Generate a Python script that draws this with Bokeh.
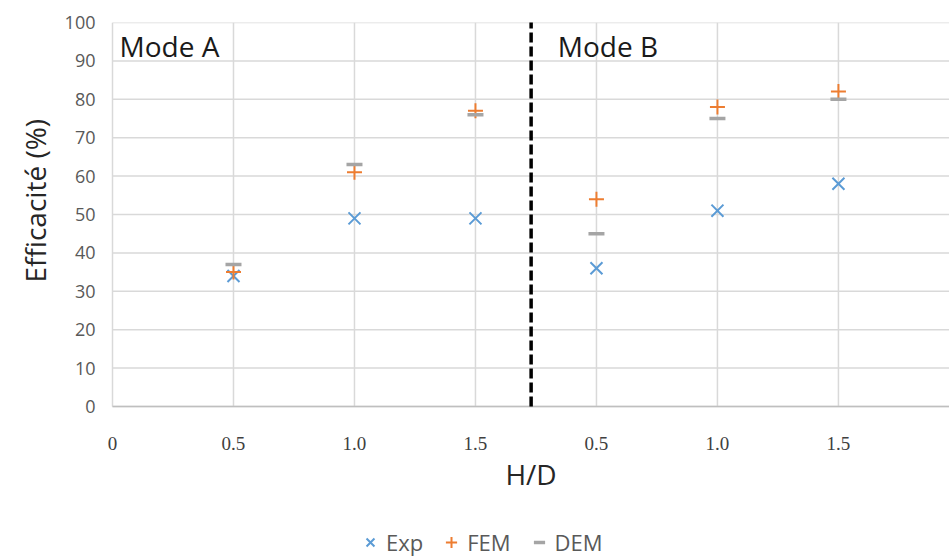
from bokeh.plotting import figure
from bokeh.models import ColumnDataSource, FixedTicker, Label, Legend, LegendItem, Title
from bokeh.embed import file_html
from bokeh.resources import INLINE

# ---- data ----
positions = [1, 2, 3, 4, 5, 6]           # category slots (Mode A: 1-3, Mode B: 4-6)
tick_positions = [0, 1, 2, 3, 4, 5, 6]
tick_labels = ["0", "0.5", "1.0", "1.5", "0.5", "1.0", "1.5"]
exp_vals = [34, 49, 49, 36, 51, 58]
fem_vals = [35, 61, 77, 54, 78, 82]
dem_vals = [37, 63, 76, 45, 75, 80]
y_ticks = [0, 10, 20, 30, 40, 50, 60, 70, 80, 90, 100]
mode_split = 3.46

FONT = "Open Sans"
GRID = "#D9D9D9"
TICK_COL = "#595959"

X_END = 6.918
Y_MIN, Y_MAX = min(y_ticks), max(y_ticks)

src = ColumnDataSource(dict(x=positions, exp=exp_vals, fem=fem_vals, dem=dem_vals))

p = figure(width=949, height=557, x_range=(-0.0992, X_END), y_range=(-39.32, Y_MAX),
           output_backend="svg", toolbar_location=None, x_axis_location=None,
           min_border_left=100, min_border_right=0, min_border_top=22, min_border_bottom=0)
p.outline_line_color = None
p.background_fill_color = "white"
p.xgrid.visible = False
p.ygrid.visible = False

# y axis
p.yaxis.ticker = FixedTicker(ticks=y_ticks)
p.yaxis.bounds = (Y_MIN, Y_MAX)
p.yaxis.axis_line_color = None
p.yaxis.major_tick_line_color = None
p.yaxis.minor_tick_line_color = None
p.yaxis.major_tick_out = 0
p.yaxis.major_label_text_color = TICK_COL
p.yaxis.major_label_text_font = FONT
p.yaxis.major_label_text_font_size = "18px"
p.yaxis.major_label_standoff = 5

# y axis title, aligned to the 0-100 part of the frame
p.add_layout(Title(text="Efficacité (%)", align="left", offset=275, standoff=15,
                   text_font=FONT, text_font_size="28px", text_font_style="normal",
                   text_color="#262626"), "left")

# grid lines (drawn from the tick arrays)
p.segment(x0=tick_positions, y0=[Y_MIN] * len(tick_positions),
          x1=tick_positions, y1=[Y_MAX] * len(tick_positions),
          line_color=GRID, line_width=1.5)
p.segment(x0=[min(tick_positions)] * len(y_ticks), y0=y_ticks,
          x1=[X_END] * len(y_ticks), y1=y_ticks,
          line_color=GRID, line_width=1.5)
# x axis line
p.segment(x0=[min(tick_positions)], y0=[Y_MIN], x1=[X_END], y1=[Y_MIN],
          line_color="#BFBFBF", line_width=1.5)

# x tick labels and axis title
p.text(x=tick_positions, y=[Y_MIN - 9.6] * len(tick_positions), text=tick_labels,
       text_font="Liberation Serif", text_font_size="19px", text_color="#404040",
       text_align="center", text_baseline="middle")
p.add_layout(Label(x=(min(tick_positions) + X_END) / 2, y=Y_MIN - 17.7, text="H/D",
                   text_font=FONT, text_font_size="28px", text_color="#262626",
                   text_align="center", text_baseline="middle"))

# series
r_exp = p.scatter("x", "exp", source=src, marker="x", size=17, line_width=2, line_color="#5B9BD5")
r_fem = p.scatter("x", "fem", source=src, marker="cross", size=15, line_width=2, line_color="#ED7D31")
r_dem = p.scatter("x", "dem", source=src, marker="dash", size=16, line_width=3.5, line_color="#A5A5A5")

# mode divider
p.segment(x0=[mode_split], y0=[Y_MIN], x1=[mode_split], y1=[Y_MAX + 1],
          line_color="black", line_width=3.5, line_dash="10 4")

p.add_layout(Label(x=0.058, y=94, text="Mode A", text_font=FONT, text_font_size="28px",
                   text_color="#1a1a1a", text_baseline="middle"))
p.add_layout(Label(x=3.68, y=94, text="Mode B", text_font=FONT, text_font_size="28px",
                   text_color="#1a1a1a", text_baseline="middle"))

legend = Legend(items=[LegendItem(label="Exp", renderers=[r_exp]),
                       LegendItem(label="FEM", renderers=[r_fem]),
                       LegendItem(label="DEM", renderers=[r_dem])],
                orientation="horizontal", location=(256, 0),
                label_text_font=FONT, label_text_font_size="22px", label_text_color=TICK_COL,
                label_height=20, glyph_width=28, glyph_height=28, label_standoff=2, spacing=14,
                padding=0, margin=0, border_line_color=None, background_fill_alpha=0)
p.add_layout(legend, "center")

open("out.html", "w").write(file_html(p, INLINE))
